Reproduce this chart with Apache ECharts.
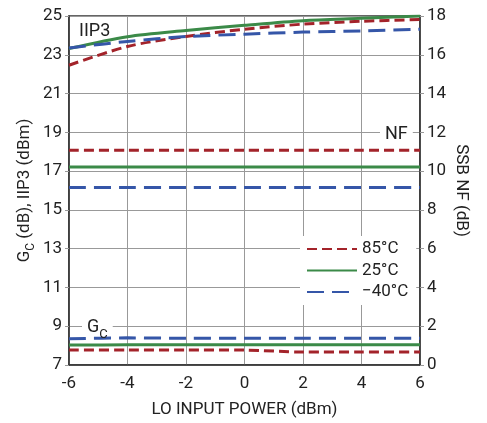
<!DOCTYPE html>
<html><head><meta charset="utf-8">
<script src="https://cdn.jsdelivr.net/npm/echarts@6/dist/echarts.min.js"></script>
<style>html,body{margin:0;padding:0;background:#fff}#c{width:487px;height:423px}</style>
</head><body><div id="c"></div>
<script>
const xValues = [-6, -4, -2, 0, 2, 4, 6];
const leftTicks = [7, 9, 11, 13, 15, 17, 19, 21, 23, 25];
const iip3_85 = [22.46, 23.43, 23.94, 24.32, 24.58, 24.73, 24.82];
const iip3_25 = [23.32, 23.93, 24.25, 24.52, 24.76, 24.88, 25.0];
const iip3_m40 = [23.35, 23.69, 23.94, 24.06, 24.17, 24.23, 24.32];
const nf_85 = [11.08, 11.08, 11.08, 11.08, 11.08, 11.08, 11.08];
const nf_25 = [10.21, 10.21, 10.21, 10.21, 10.21, 10.21, 10.21];
const nf_m40 = [9.16, 9.16, 9.16, 9.16, 9.16, 9.16, 9.16];
const gc_85 = [7.78, 7.78, 7.78, 7.77, 7.67, 7.67, 7.67];
const gc_25 = [8.03, 8.04, 8.04, 8.05, 8.05, 8.05, 8.05];
const gc_m40 = [8.35, 8.4, 8.38, 8.38, 8.38, 8.38, 8.38];

const FONT = 'Roboto,"Liberation Sans",sans-serif';
const RED = '#a3232a', GREEN = '#3b8a48', BLUE = '#3556a8';
const styles = {
  '85°C': {color: RED, type: [10, 5]},
  '25°C': {color: GREEN, type: 'solid'},
  '−40°C': {color: BLUE, type: [17, 8]}
};
function pair(arr) { return xValues.map((x, i) => [x, arr[i]]); }
function mk(name, arr, yi) {
  const s = styles[name];
  return {
    name: name, type: 'line', yAxisIndex: yi, data: pair(arr), symbol: 'none', smooth: 0.3,
    lineStyle: {color: s.color, width: 3, type: s.type}, itemStyle: {color: s.color}, z: 3
  };
}
const chart = echarts.init(document.getElementById('c'), null, {renderer: 'canvas'});
chart.setOption({
  animation: false,
  textStyle: {fontFamily: FONT},
  grid: {left: 69, right: 67, top: 16, bottom: 54, show: true, borderColor: '#333', borderWidth: 1.5, backgroundColor: 'transparent'},
  legend: {
    data: ['85°C', '25°C', '−40°C'], orient: 'vertical', left: 300, top: 236,
    backgroundColor: '#fff', padding: [4, 8, 4, 6], itemWidth: 50, itemHeight: 14, itemGap: 3.5,
    itemStyle: {opacity: 0},
    textStyle: {fontFamily: FONT, fontSize: 17, color: '#222', lineHeight: 18}
  },
  xAxis: {
    type: 'value', min: -6, max: 6, interval: 2,
    name: 'LO INPUT POWER (dBm)', nameLocation: 'middle', nameGap: 36, nameMoveOverlap: false,
    nameTextStyle: {fontFamily: FONT, fontSize: 17, color: '#222'},
    axisLine: {show: true, onZero: false, lineStyle: {color: '#333', width: 1.5}},
    axisTick: {show: false},
    axisLabel: {fontFamily: FONT, fontSize: 17, color: '#222', margin: 10},
    splitLine: {show: true, lineStyle: {color: '#999', width: 1}}
  },
  yAxis: [
    {
      type: 'value', position: 'left', min: 7, max: 25,
      name: 'G{sub|C} (dB), IIP3 (dBm)', nameLocation: 'middle', nameGap: 36, nameRotate: 90, nameMoveOverlap: false,
      nameTextStyle: {fontFamily: FONT, fontSize: 17, color: '#222',
        rich: {sub: {fontFamily: FONT, fontSize: 12, color: '#222', verticalAlign: 'bottom', padding: [0, 0, -4, 0]}}},
      axisLine: {show: true, onZero: false, lineStyle: {color: '#333', width: 1.5}},
      axisTick: {show: true, length: 4, customValues: leftTicks, lineStyle: {color: '#999'}},
      axisLabel: {fontFamily: FONT, fontSize: 17, color: '#222', margin: 7, customValues: leftTicks},
      splitLine: {show: false}
    },
    {
      type: 'value', position: 'right', min: 0, max: 18, interval: 2,
      name: 'SSB NF (dB)', nameLocation: 'middle', nameGap: 33, nameRotate: -90, nameMoveOverlap: false,
      nameTextStyle: {fontFamily: FONT, fontSize: 17, color: '#222'},
      axisLine: {show: true, onZero: false, lineStyle: {color: '#333', width: 1.5}},
      axisTick: {show: true, length: 4, lineStyle: {color: '#999'}},
      axisLabel: {fontFamily: FONT, fontSize: 17, color: '#222', margin: 7},
      splitLine: {show: true, lineStyle: {color: '#999', width: 1}}
    }
  ],
  graphic: [
    {type: 'text', left: 79, top: 22, z: 10, style: {text: 'IIP3', fontFamily: FONT, fontSize: 18, fill: '#222'}},
    {type: 'text', left: 380, top: 125, z: 10, style: {text: 'NF', fontFamily: FONT, fontSize: 18, fill: '#222', backgroundColor: '#fff', padding: [0, 5, 0, 5]}},
    {type: 'text', left: 82, top: 318, z: 10, style: {text: 'G{s|C}', fontFamily: FONT, fontSize: 18, fill: '#222', backgroundColor: '#fff', padding: [0, 5, 0, 5],
      rich: {s: {fontFamily: FONT, fontSize: 13, fill: '#222', verticalAlign: 'bottom', padding: [0, 0, -5, 0]}}}}
  ],
  series: [
    mk('85°C', iip3_85, 0), mk('25°C', iip3_25, 0), mk('−40°C', iip3_m40, 0),
    mk('85°C', nf_85, 1), mk('25°C', nf_25, 1), mk('−40°C', nf_m40, 1),
    mk('85°C', gc_85, 0), mk('25°C', gc_25, 0), mk('−40°C', gc_m40, 0)
  ]
});
</script></body></html>
